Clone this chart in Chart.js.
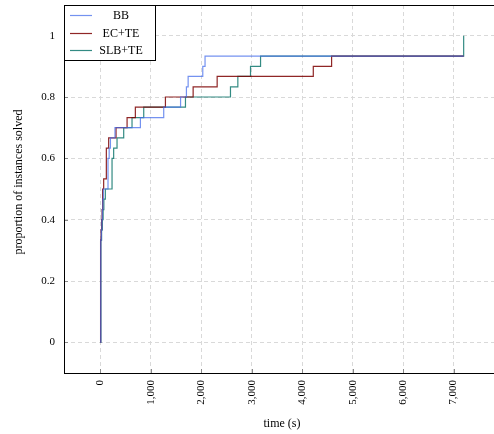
<!DOCTYPE html>
<html>
<head>
<meta charset="utf-8">
<script src="https://cdn.jsdelivr.net/npm/chart.js@4.4.1/dist/chart.umd.min.js"></script>
<style>
html, body { margin: 0; padding: 0; overflow: hidden; background: #fff; }
</style>
</head>
<body>
<canvas id="chart" width="502" height="434"></canvas>
<script>
// tick labels
var xTicks = [0, 1000, 2000, 3000, 4000, 5000, 6000, 7000];
var yTicks = [0, 0.2, 0.4, 0.6, 0.8, 1];

// series: time (s) at which the solved proportion steps up
var seriesNames = ['BB', 'EC+TE', 'SLB+TE'];

var bbTime   = [0, 8, 20, 30, 40, 50, 60, 152, 175, 200, 290, 794, 1256, 1590, 1706, 1740, 2030, 2075, 7200];
var bbSolved = [0, 0.333, 0.367, 0.4, 0.433, 0.467, 0.5, 0.6, 0.633, 0.667, 0.7, 0.733, 0.767, 0.8, 0.833, 0.867, 0.9, 0.933, 0.933];

var ecTime   = [0, 5, 15, 25, 35, 45, 66, 119, 165, 311, 530, 694, 1290, 1839, 2315, 4220, 4583, 7200];
var ecSolved = [0, 0.333, 0.367, 0.4, 0.433, 0.5, 0.533, 0.633, 0.667, 0.7, 0.733, 0.767, 0.8, 0.833, 0.867, 0.9, 0.933, 0.933];

var slbTime   = [0, 10, 25, 40, 55, 70, 99, 232, 264, 331, 463, 628, 860, 1687, 2579, 2725, 2976, 3175, 7200];
var slbSolved = [0, 0.333, 0.367, 0.4, 0.433, 0.467, 0.5, 0.6, 0.633, 0.667, 0.7, 0.733, 0.767, 0.8, 0.833, 0.867, 0.9, 0.933, 1];

var colors = ['rgba(70,110,235,0.75)', 'rgba(125,0,0,0.85)', 'rgba(0,110,100,0.8)'];
var serif = "'Liberation Serif', 'DejaVu Serif', serif";
var yTitle = 'proportion of instances solved';

function points(ts, vs) {
    var out = [];
    for (var i = 0; i < ts.length; i++) out.push({ x: ts[i], y: vs[i] });
    return out;
}

function noPad(s) {
    s.paddingTop = 0; s.paddingBottom = 0; s.paddingLeft = 0; s.paddingRight = 0;
}

var frame = {
    id: 'frame',
    afterDatasetsDraw: function(chart) {
        var ctx = chart.ctx, a = chart.chartArea;
        ctx.save();
        // small inner tick marks
        ctx.strokeStyle = '#888';
        ctx.lineWidth = 1;
        var xs = chart.scales.x, ys = chart.scales.y;
        xTicks.forEach(function(v) {
            var px = Math.round(xs.getPixelForValue(v)) + 0.5;
            ctx.beginPath(); ctx.moveTo(px, a.bottom); ctx.lineTo(px, a.bottom - 4); ctx.stroke();
        });
        yTicks.forEach(function(v) {
            var py = Math.round(ys.getPixelForValue(v)) + 0.5;
            ctx.beginPath(); ctx.moveTo(a.left, py); ctx.lineTo(a.left + 4, py); ctx.stroke();
        });
        ctx.strokeStyle = '#000';
        ctx.strokeRect(a.left + 0.5, a.top + 0.5, a.right - a.left, a.bottom - a.top);
        ctx.restore();
    },
    afterDraw: function(chart) {
        var ctx = chart.ctx;
        ctx.save();
        // y axis title
        ctx.font = '12px ' + serif;
        ctx.fillStyle = '#000';
        ctx.textAlign = 'center';
        ctx.textBaseline = 'middle';
        ctx.translate(19, 182);
        ctx.rotate(-Math.PI / 2);
        ctx.fillText(yTitle, 0, 0);
        ctx.restore();

        // legend box
        ctx.save();
        ctx.fillStyle = '#fff';
        ctx.fillRect(64, 5, 91, 56);
        ctx.strokeStyle = '#000';
        ctx.lineWidth = 1;
        ctx.strokeRect(64.5, 5.5, 91, 55);
        ctx.font = '12px ' + serif;
        ctx.textAlign = 'center';
        ctx.textBaseline = 'middle';
        var rows = [15.5, 33.5, 50.5];
        seriesNames.forEach(function(name, i) {
            ctx.strokeStyle = colors[i];
            ctx.lineWidth = 1.2;
            ctx.beginPath(); ctx.moveTo(70, rows[i]); ctx.lineTo(92, rows[i]); ctx.stroke();
            ctx.fillStyle = '#000';
            ctx.fillText(name, 121, rows[i] + 0.5);
        });
        ctx.restore();
    }
};

var ctx = document.getElementById('chart').getContext('2d');
new Chart(ctx, {
    type: 'line',
    data: {
        datasets: [
            { label: seriesNames[0], data: points(bbTime, bbSolved), borderColor: colors[0] },
            { label: seriesNames[1], data: points(ecTime, ecSolved), borderColor: colors[1] },
            { label: seriesNames[2], data: points(slbTime, slbSolved), borderColor: colors[2] }
        ]
    },
    options: {
        responsive: false,
        animation: false,
        devicePixelRatio: 1,
        layout: { padding: { left: 0, top: 5, right: 2, bottom: 0 } },
        elements: {
            line: { stepped: 'before', borderWidth: 1.2, fill: false, tension: 0 },
            point: { radius: 0 }
        },
        plugins: { legend: { display: false }, tooltip: { enabled: false } },
        scales: {
            x: {
                type: 'linear', min: -720, max: 7920,
                afterBuildTicks: function(s) { s.ticks = xTicks.map(function(v) { return { value: v }; }); },
                afterFit: function(s) { s.height = 61; noPad(s); },
                ticks: { minRotation: 90, maxRotation: 90, padding: 7, color: '#000', font: { family: serif, size: 11 } },
                grid: { color: '#d9d9d9', drawTicks: false },
                border: { display: false, dash: [4, 3] },
                title: { display: true, text: 'time (s)', color: '#000', font: { family: serif, size: 12 }, padding: { top: 0, bottom: 3 } }
            },
            y: {
                type: 'linear', min: -0.1, max: 1.1,
                afterBuildTicks: function(s) { s.ticks = yTicks.map(function(v) { return { value: v }; }); },
                afterFit: function(s) { s.width = 64; noPad(s); },
                ticks: { padding: 9, color: '#000', font: { family: serif, size: 11 },
                         callback: function(v) { return String(v); } },
                grid: { color: '#d9d9d9', drawTicks: false },
                border: { display: false, dash: [4, 3] }
            }
        }
    },
    plugins: [frame]
});
</script>
</body>
</html>
